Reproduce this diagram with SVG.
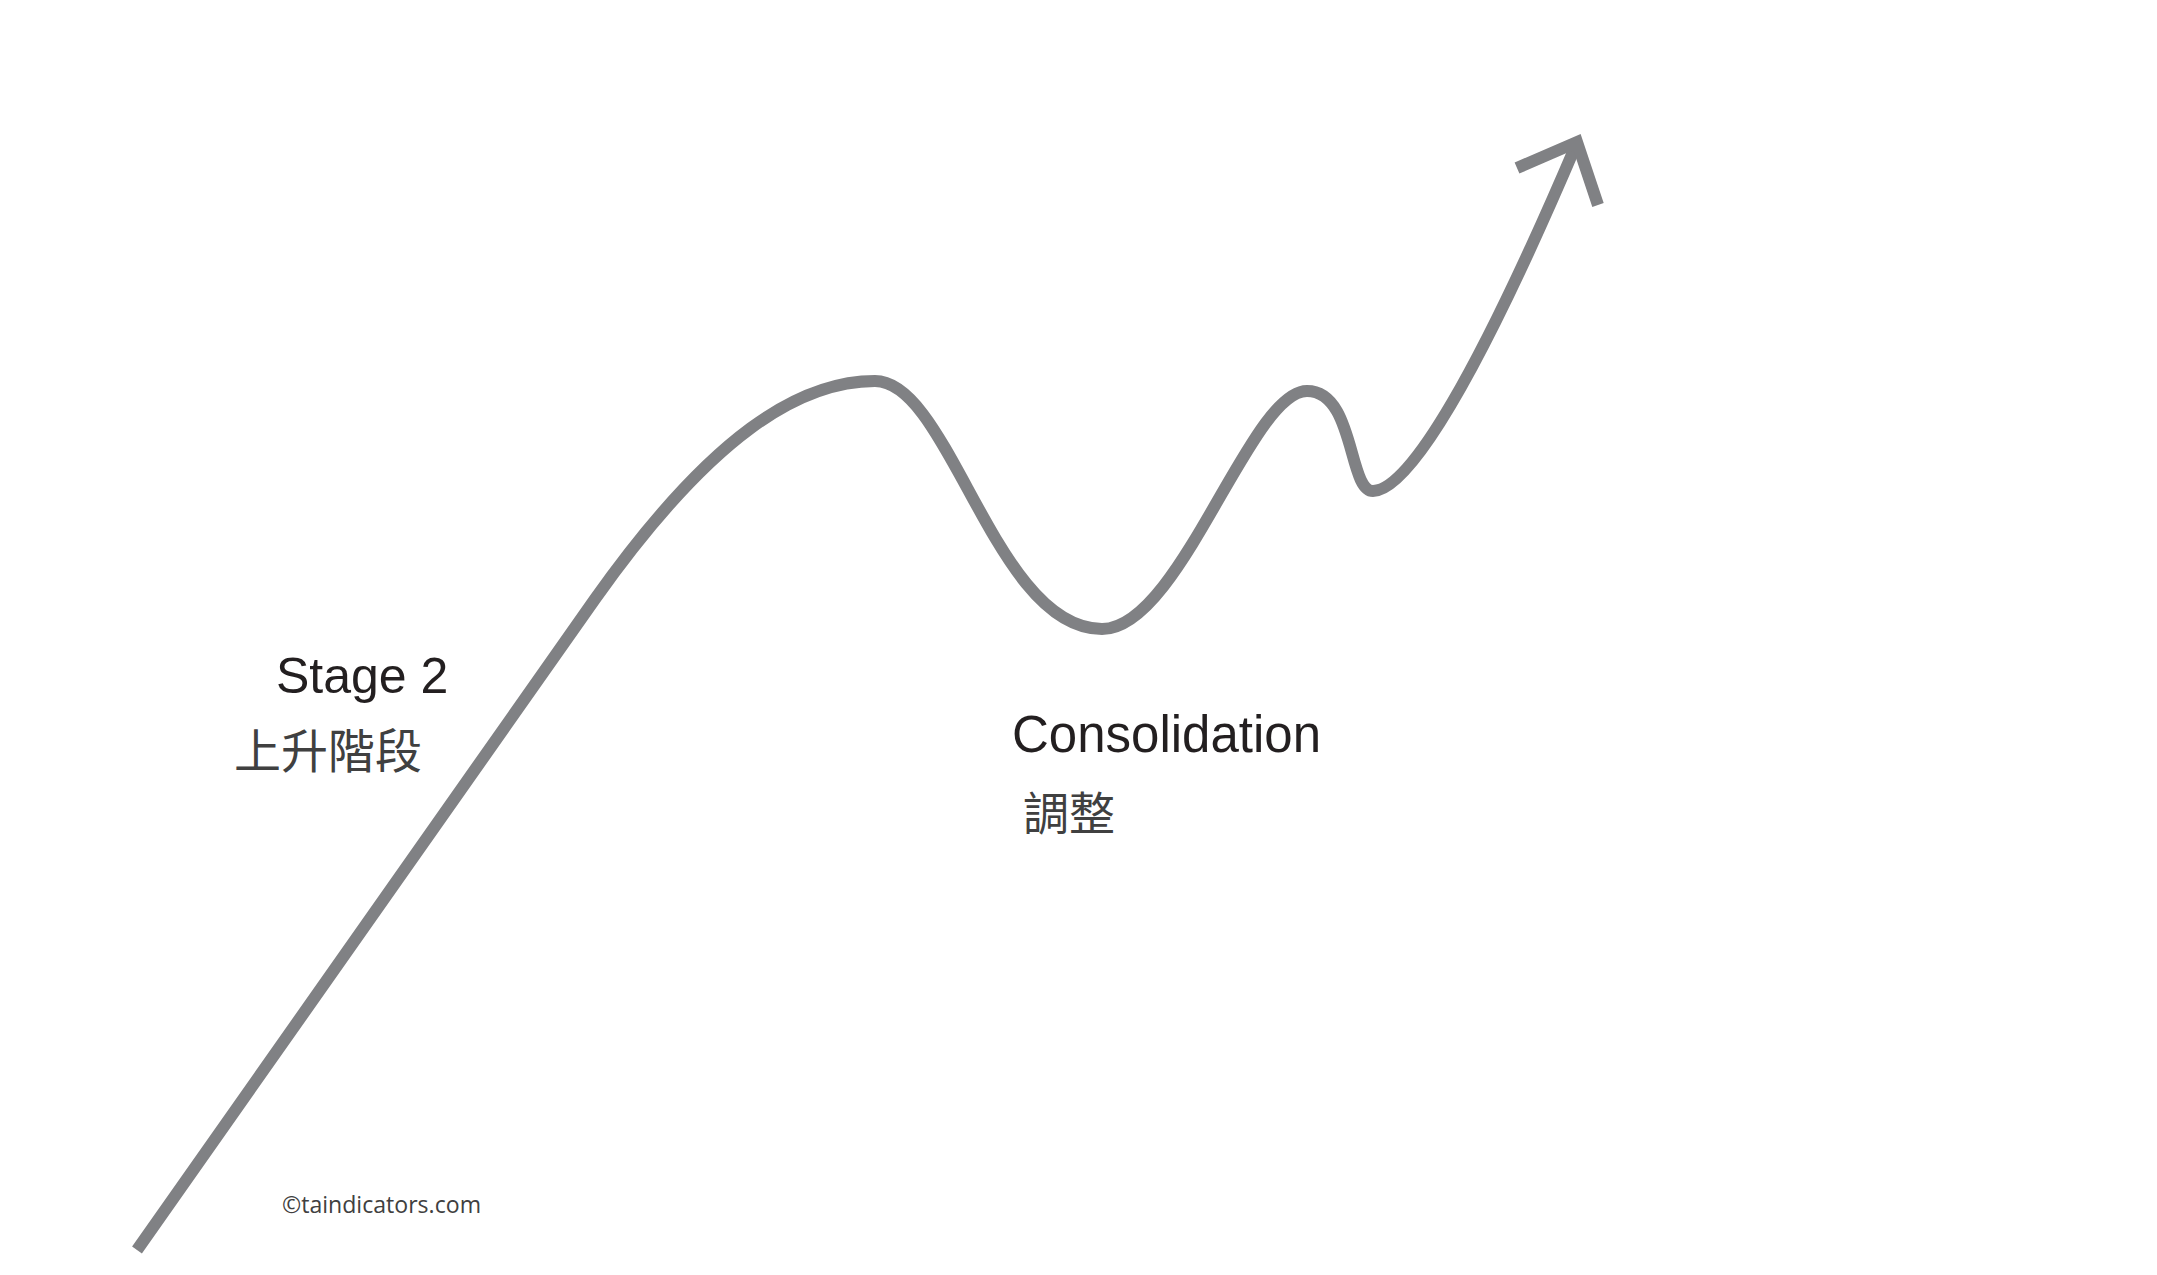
<svg xmlns="http://www.w3.org/2000/svg" width="2157" height="1275" viewBox="0 0 2157 1275">
<style>
.curve{fill:none;stroke:#808184;stroke-width:12;stroke-linecap:butt;stroke-linejoin:miter;stroke-miterlimit:10}
.en{font-family:"Liberation Sans",Arial,sans-serif;fill:#231f20}
.zh{font-family:"Noto Sans CJK TC","Noto Sans CJK SC",sans-serif;fill:#404040}
.cp{font-family:"Open Sans","Liberation Sans",sans-serif;fill:#404040}
</style>
<rect width="2157" height="1275" fill="#ffffff"/>
<g id="connectors">
<path class="curve" d="M137,1250 L595,599 C712,434 800,381 875,381 C950,381 995,629 1102,629 C1180,629 1250,391 1307,391 C1355,391 1348,491 1373,491 C1410,491 1480,370 1576,145"/>
<polyline class="curve" points="1517,168 1577,142 1598,205"/>
</g>
<g id="stage2">
<text class="en" x="276" y="693" font-size="50">Stage 2</text>
<text class="zh" x="234" y="768" font-size="47">上升階段</text>
</g>
<g id="consolidation">
<text class="en" x="1012" y="752" font-size="51">Consolidation</text>
<text class="zh" x="1023" y="830" font-size="46">調整</text>
</g>
<g id="copyright">
<text class="cp" x="282" y="1213" font-size="24" textLength="199" lengthAdjust="spacingAndGlyphs">©taindicators.com</text>
</g>
</svg>
